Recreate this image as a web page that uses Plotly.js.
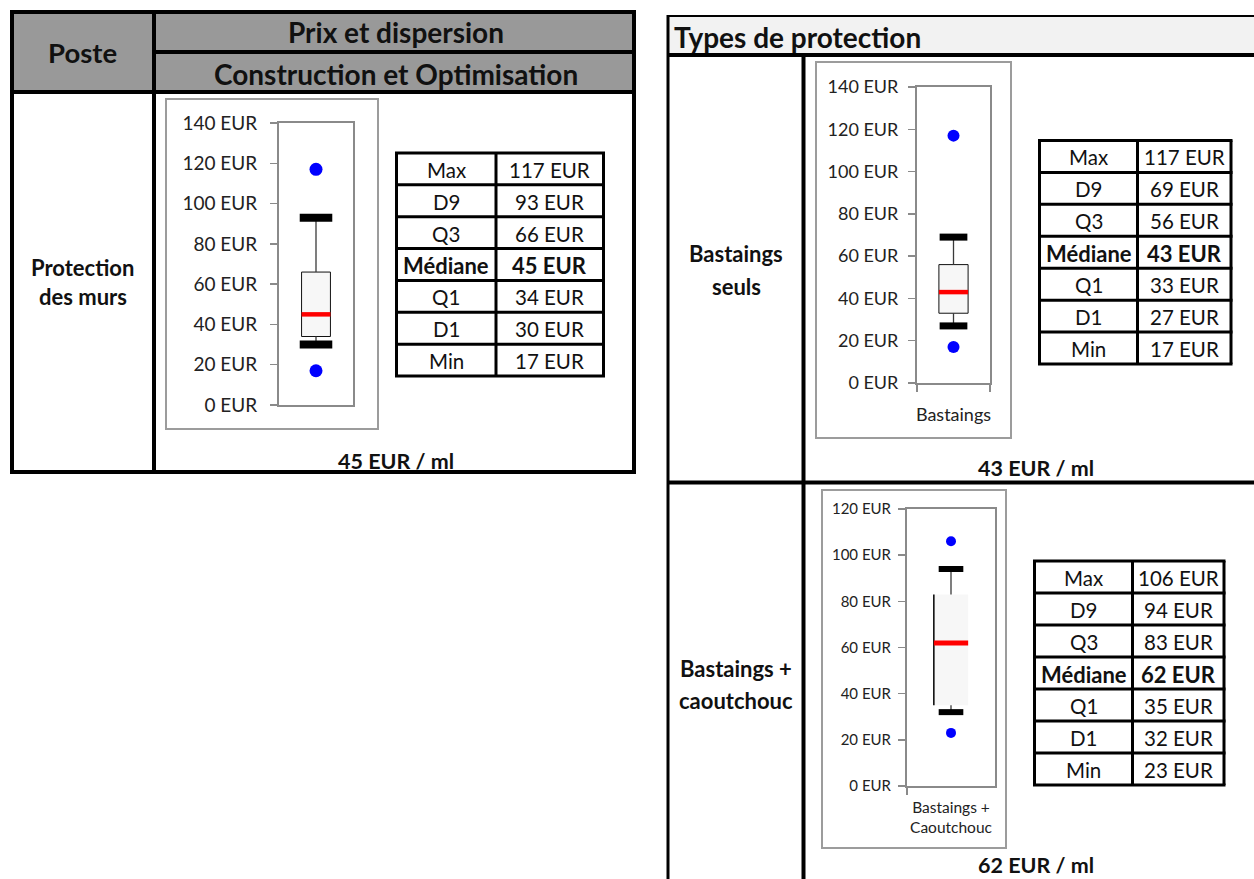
<!DOCTYPE html>
<html>
<head>
<meta charset="utf-8">
<script src="https://cdn.plot.ly/plotly-3.0.1.min.js"></script>
<style>html,body{margin:0;padding:0;background:#fff;} #chart{width:1254px;height:879px;}</style>
</head>
<body>
<div id="chart"></div>
<script>
// ---------------- DATA ----------------
const statLabels = ['Max', 'D9', 'Q3', 'Médiane', 'Q1', 'D1', 'Min'];
const mursValues = [117, 93, 66, 45, 34, 30, 17];
const bastaingsValues = [117, 69, 56, 43, 33, 27, 17];
const caoutchoucValues = [106, 94, 83, 62, 35, 32, 23];
const rowLabels = [['Protection', 'des murs'], ['Bastaings', 'seuls'], ['Bastaings +', 'caoutchouc']];
const categoryLabels = ['', 'Bastaings', 'Bastaings +<br>Caoutchouc'];
const axisMax = [140, 140, 120];
const axisStep = 20;
const unit = 'EUR';
const footerUnit = 'EUR / ml';
const headerTexts = ['Poste', 'Prix et dispersion', 'Construction et Optimisation', 'Types de protection'];

// ---------------- LAYOUT HELPERS ----------------
const W = 1254, H = 879;
const FONT = 'Lato, "Liberation Sans", sans-serif';
const px = x => x / W;
const py = y => 1 - y / H;

const panels = [
  { values: mursValues, plot: [279, 353, 123, 405], frame: [166, 378, 99, 429],
    table: [396.5, 603.5, 153, 376], col: 496, footer: [396, 461], rowLabel: [83, 267, 297],
    tickSize: 19, tickStand: 9, catSize: 18, catStand: 14, boxW: 0.39, capW: 0.44, capT: 8, medT: 4.5, dot: 13, boxLine: 1, minorDtick: 0 },
  { values: bastaingsValues, plot: [917, 990, 87, 383], frame: [816, 1011, 62, 438],
    table: [1039.5, 1231, 140.5, 364], col: 1137.5, footer: [1036, 468], rowLabel: [736, 254, 286],
    tickSize: 18, tickStand: 6, catSize: 18, catStand: 14, boxW: 0.4, capW: 0.38, capT: 7, medT: 4.5, dot: 12, boxLine: 1, minorDtick: 1 },
  { values: caoutchoucValues, plot: [907, 995, 509, 786], frame: [822, 1006, 490, 848],
    table: [1034.5, 1224, 561, 785], col: 1132.5, footer: [1036, 865], rowLabel: [736, 668, 700],
    tickSize: 15, tickStand: 4, catSize: 15.5, catStand: 6, boxW: 0.39, capW: 0.28, capT: 6, medT: 5, dot: 10, boxLine: 0, minorDtick: 2 }
];

const traces = [];
const layout = {
  width: W, height: H, margin: { l: 0, r: 0, t: 0, b: 0 },
  paper_bgcolor: '#ffffff', plot_bgcolor: '#ffffff',
  font: { family: FONT, color: '#1a1a1a' },
  showlegend: false, shapes: [], annotations: []
};

function line(x0, y0, x1, y1, w, c) {
  layout.shapes.push({ type: 'line', xref: 'paper', yref: 'paper', x0: px(x0), y0: py(y0), x1: px(x1), y1: py(y1),
    line: { color: c || '#000', width: w }, layer: 'above' });
}
function rect(x0, y0, x1, y1, fill, lw, lc, layer) {
  layout.shapes.push({ type: 'rect', xref: 'paper', yref: 'paper', x0: px(x0), y0: py(y0), x1: px(x1), y1: py(y1),
    fillcolor: fill || 'rgba(0,0,0,0)', line: { color: lc || '#000', width: lw || 0 }, layer: layer || 'below' });
}
function text(t, x, y, size, bold, anchor) {
  layout.annotations.push({ xref: 'paper', yref: 'paper', x: px(x), y: py(y), text: bold ? '<b>' + t + '</b>' : t,
    showarrow: false, xanchor: anchor || 'center', yanchor: 'middle',
    font: { family: FONT, size: size, color: '#111' } });
}

// ---------------- LEFT BLOCK (header table) ----------------
rect(12, 12, 634, 92, '#999999');
line(10, 12, 636, 12, 4);
line(12, 10, 12, 474, 4);
line(634, 10, 634, 474, 4);
line(10, 472, 636, 472, 4);
line(154, 12, 154, 472, 4);
line(154, 52, 634, 52, 4);
line(12, 92, 634, 92, 4);
text(headerTexts[0], 83, 52, 27.5, true);
text(headerTexts[1], 396, 32, 28, true);
text(headerTexts[2], 396, 74, 28, true);

// ---------------- RIGHT BLOCK ----------------
rect(668, 16, 1254, 55, '#f2f2f2');
line(667, 16, 1254, 16, 2);
line(668, 15, 668, 879, 3);
line(668, 55, 1254, 55, 4);
line(803.5, 55, 803.5, 879, 4);
line(668, 482.5, 1254, 482.5, 4);
text(headerTexts[3], 672, 37, 28, true, 'left');

// ---------------- PANELS ----------------
panels.forEach((p, i) => {
  const n = i + 1;
  const xa = 'xaxis' + (n === 1 ? '' : n), ya = 'yaxis' + (n === 1 ? '' : n);
  const xr = 'x' + (n === 1 ? '' : n), yr = 'y' + (n === 1 ? '' : n);
  const [vMax, vD9, vQ3, vMed, vQ1, vD1, vMin] = p.values;
  const [plx0, plx1, ply0, ply1] = p.plot;

  layout[xa] = {
    domain: [px(plx0), px(plx1)], range: [-0.5, 0.5], anchor: yr,
    showline: true, mirror: true, linecolor: '#8a8a8a', linewidth: 2,
    showgrid: false, zeroline: false, fixedrange: true,
    tickmode: 'array', tickvals: [0], ticktext: [categoryLabels[i]], ticks: '',
    tickfont: { family: FONT, size: p.catSize, color: '#222' }, ticklabelstandoff: p.catStand
  };
  if (p.minorDtick) {
    layout[xa].minor = { ticks: 'outside', ticklen: 7, tickwidth: 1.5, tickcolor: '#8a8a8a', tick0: -0.5, dtick: p.minorDtick, showgrid: false };
  }
  layout[ya] = {
    domain: [py(ply1), py(ply0)], range: [0, axisMax[i]], anchor: xr,
    showline: true, mirror: true, linecolor: '#8a8a8a', linewidth: 2,
    showgrid: false, zeroline: false, fixedrange: true,
    tickmode: 'linear', tick0: 0, dtick: axisStep, ticksuffix: ' ' + unit,
    ticks: 'outside', ticklen: 7, tickwidth: 1.5, tickcolor: '#8a8a8a', ticklabelstandoff: p.tickStand,
    tickfont: { family: FONT, size: p.tickSize, color: '#222' }
  };

  // outer chart frame
  const [fx0, fx1, fy0, fy1] = p.frame;
  rect(fx0, fy0, fx1, fy1, 'rgba(0,0,0,0)', 2, '#9c9c9c', 'below');

  // box (Q1 -> Q3)
  traces.push({ type: 'bar', x: [0], y: [vQ3 - vQ1], base: [vQ1], width: p.boxW, xaxis: xr, yaxis: yr,
    marker: { color: '#f7f7f7', line: { color: '#111', width: p.boxLine } }, hoverinfo: 'skip' });
  if (!p.boxLine) {
    traces.push({ type: 'scatter', mode: 'lines', x: [-p.boxW / 2, -p.boxW / 2], y: [vQ1, vQ3], xaxis: xr, yaxis: yr,
      line: { color: '#000', width: 1.5 }, hoverinfo: 'skip' });
  }
  // whiskers
  traces.push({ type: 'scatter', mode: 'lines', x: [0, 0, null, 0, 0], y: [vD1, vQ1, null, vQ3, vD9], xaxis: xr, yaxis: yr,
    line: { color: '#3a3a3a', width: 1.3 }, hoverinfo: 'skip' });
  // D1 / D9 caps
  traces.push({ type: 'scatter', mode: 'lines', x: [-p.capW / 2, p.capW / 2, null, -p.capW / 2, p.capW / 2],
    y: [vD1, vD1, null, vD9, vD9], xaxis: xr, yaxis: yr, line: { color: '#000', width: p.capT }, hoverinfo: 'skip' });
  // median
  traces.push({ type: 'scatter', mode: 'lines', x: [-p.boxW / 2, p.boxW / 2], y: [vMed, vMed], xaxis: xr, yaxis: yr,
    line: { color: '#ff0000', width: p.medT }, hoverinfo: 'skip' });
  // min / max points
  traces.push({ type: 'scatter', mode: 'markers', x: [0, 0], y: [vMin, vMax], xaxis: xr, yaxis: yr,
    marker: { color: '#0000ff', size: p.dot }, cliponaxis: false, hoverinfo: 'skip' });

  // stats table
  const [tx0, tx1, ty0, ty1] = p.table;
  const rowH = (ty1 - ty0) / statLabels.length;
  rect(tx0, ty0, tx1, ty1, '#fff', 0, '#000', 'below');
  for (let r = 0; r <= statLabels.length; r++) line(tx0 - 1.5, ty0 + r * rowH, tx1 + 1.5, ty0 + r * rowH, 3);
  line(tx0, ty0, tx0, ty1, 3);
  line(p.col, ty0, p.col, ty1, 3);
  line(tx1, ty0, tx1, ty1, 3);
  statLabels.forEach((lab, r) => {
    const cy = ty0 + (r + 0.5) * rowH + 1;
    const bold = lab === 'Médiane';
    text(lab, (tx0 + p.col) / 2, cy, bold ? 22 : 20.5, bold);
    text(p.values[r] + ' ' + unit, (p.col + tx1) / 2, cy, bold ? 22 : 20.5, bold);
  });

  // footer and row label
  text(vMed + ' ' + footerUnit, p.footer[0], p.footer[1], 21.5, true);
  text(rowLabels[i][0], p.rowLabel[0], p.rowLabel[1], 22, true);
  text(rowLabels[i][1], p.rowLabel[0], p.rowLabel[2], 22, true);
});

Plotly.newPlot('chart', traces, layout, { staticPlot: true, displayModeBar: false });
</script>
</body>
</html>
